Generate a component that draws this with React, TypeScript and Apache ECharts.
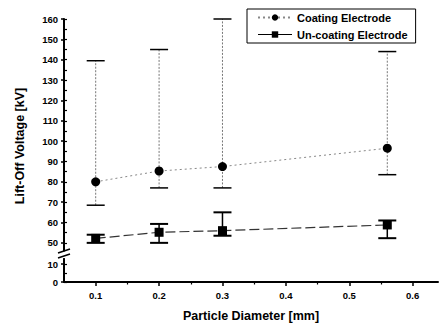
import React, { useEffect, useRef } from "react";
import * as echarts from "echarts";

const xValues = [0.1, 0.2, 0.3, 0.56];
const coatingMean = [80, 85.3, 87.5, 96.5];
const coatingLow = [68.5, 77, 77, 83.5];
const coatingHigh = [139.5, 145, 160, 144];
const uncoatMean = [52.2, 55.2, 56, 58.8];
const uncoatLow = [50, 50, 53.5, 52.3];
const uncoatHigh = [54, 59.3, 65, 61];

const xMajor = [0.1, 0.2, 0.3, 0.4, 0.5, 0.6];
const xMinor = [0.15, 0.25, 0.35, 0.45, 0.55];
const yMajorTop = [50, 60, 70, 80, 90, 100, 110, 120, 130, 140, 150, 160];
const yMinorTop = [55, 65, 75, 85, 95, 105, 115, 125, 135, 145, 155];
const yMajorBottom = [0, 10];
const yMinorBottom = [5];

const FONT = "'Liberation Sans', Arial, sans-serif";

function errRender(capColor: string, barDash: any, barColor: string, capW: number, barW: number) {
  return (params: any, api: any) => {
    const x = api.value(0);
    const lo = api.coord([x, api.value(1)]);
    const hi = api.coord([x, api.value(2)]);
    const half = 9;
    return {
      type: "group",
      children: [
        {
          type: "line",
          shape: { x1: lo[0], y1: lo[1], x2: hi[0], y2: hi[1] },
          style: { stroke: barColor, lineWidth: barW, lineDash: barDash },
        },
        {
          type: "line",
          shape: { x1: hi[0] - half, y1: hi[1], x2: hi[0] + half, y2: hi[1] },
          style: { stroke: capColor, lineWidth: capW },
        },
        {
          type: "line",
          shape: { x1: lo[0] - half, y1: lo[1], x2: lo[0] + half, y2: lo[1] },
          style: { stroke: capColor, lineWidth: capW },
        },
      ],
    };
  };
}

export default function App() {
  const ref = useRef<HTMLDivElement>(null);
  useEffect(() => {
    const chart = echarts.init(ref.current!, null, { renderer: "svg" });
    const labelStyle = { color: "#000", fontFamily: FONT, fontWeight: "bold" as const, fontSize: 9.5 };
    const gridLeft = 64;
    const gridWidth = 374;
    const xMax = 0.64;
    const topGrid = { left: gridLeft, top: 19, width: gridWidth, height: 232 };
    const botGrid = { left: gridLeft, top: 258.6, width: gridWidth, height: 23.4 };
    const option: any = {
      animation: false,
      backgroundColor: "#fff",
      grid: [topGrid, botGrid, { ...topGrid }, { ...botGrid }],
      xAxis: [
        { gridIndex: 0, type: "value", min: 0.05, max: xMax, show: false },
        {
          gridIndex: 1,
          type: "value",
          position: "bottom",
          min: 0.05,
          max: xMax,
          axisLine: { show: true, lineStyle: { color: "#000", width: 2 } },
          axisTick: { show: true, customValues: xMajor, length: 4, lineStyle: { color: "#000", width: 1.5 } },
          axisLabel: {
            show: true,
            customValues: xMajor,
            formatter: (v: number) => v.toFixed(1),
            margin: 8,
            ...labelStyle,
          },
          splitLine: { show: false },
          name: "Particle Diameter [mm]",
          nameLocation: "middle",
          nameGap: 27,
          nameTextStyle: { color: "#000", fontFamily: FONT, fontWeight: "bold", fontSize: 12.5 },
        },
        { gridIndex: 2, type: "value", min: 0.05, max: xMax, show: false },
        {
          gridIndex: 3,
          type: "value",
          position: "bottom",
          min: 0.05,
          max: xMax,
          axisLine: { show: false },
          axisTick: { show: true, customValues: xMinor, length: 2.5, lineStyle: { color: "#000", width: 1.2 } },
          axisLabel: { show: false, customValues: xMinor },
          splitLine: { show: false },
        },
      ],
      yAxis: [
        {
          gridIndex: 0,
          type: "value",
          position: "left",
          min: 46,
          max: 160,
          axisLine: { show: true, lineStyle: { color: "#000", width: 2 } },
          axisTick: { show: true, customValues: yMajorTop, length: 3, lineStyle: { color: "#000", width: 1.5 } },
          axisLabel: { show: true, customValues: yMajorTop, margin: 6, ...labelStyle },
          splitLine: { show: false },
        },
        {
          gridIndex: 1,
          type: "value",
          position: "left",
          min: 0,
          max: 13,
          axisLine: { show: true, lineStyle: { color: "#000", width: 2 } },
          axisTick: { show: true, customValues: yMajorBottom, length: 3, lineStyle: { color: "#000", width: 1.5 } },
          axisLabel: { show: true, customValues: yMajorBottom, margin: 6, ...labelStyle },
          splitLine: { show: false },
        },
        {
          gridIndex: 2,
          type: "value",
          position: "left",
          min: 46,
          max: 160,
          axisLine: { show: false },
          axisTick: { show: true, inside: true, customValues: [...yMajorTop, ...yMinorTop], length: 3, lineStyle: { color: "#000", width: 1.2 } },
          axisLabel: { show: false, customValues: yMajorTop },
          splitLine: { show: false },
        },
        {
          gridIndex: 3,
          type: "value",
          position: "left",
          min: 0,
          max: 13,
          axisLine: { show: false },
          axisTick: { show: true, inside: true, customValues: [...yMajorBottom, ...yMinorBottom], length: 3, lineStyle: { color: "#000", width: 1.2 } },
          axisLabel: { show: false, customValues: yMajorBottom },
          splitLine: { show: false },
        },
      ],
      legend: {
        orient: "vertical",
        left: 247,
        top: 9,
        padding: [3, 8, 3, 10],
        borderColor: "#000",
        borderWidth: 1,
        itemWidth: 34,
        itemHeight: 8,
        itemGap: 6,
        textStyle: { color: "#000", fontFamily: FONT, fontWeight: "bold", fontSize: 11 },
        data: [
          { name: "Coating Electrode" },
          { name: "Un-coating Electrode", lineStyle: { type: "solid", color: "#000", width: 1.2 } },
        ],
      },
      graphic: [
        {
          type: "text",
          x: 20,
          y: 146,
          rotation: Math.PI / 2,
          style: {
            text: "Lift-Off Voltage [kV]",
            fill: "#000",
            font: `bold 12.5px ${FONT}`,
            textAlign: "center",
            textVerticalAlign: "middle",
          },
        },
        { type: "rect", shape: { x: 61, y: 251.5, width: 6, height: 6.5 }, style: { fill: "#fff" }, z: 100 },
        { type: "line", shape: { x1: 58, y1: 253, x2: 70, y2: 249 }, style: { stroke: "#000", lineWidth: 1.5 }, z: 101 },
        { type: "line", shape: { x1: 58, y1: 258, x2: 70, y2: 254 }, style: { stroke: "#000", lineWidth: 1.5 }, z: 101 },
      ],
      series: [
        {
          name: "Coating Electrode error",
          type: "custom",
          xAxisIndex: 0,
          yAxisIndex: 0,
          renderItem: errRender("#000", [2, 1.5], "#777", 1.5, 1),
          encode: { x: 0, y: [1, 2] },
          data: xValues.map((x, i) => [x, coatingLow[i], coatingHigh[i]]),
          z: 2,
        },
        {
          name: "Un-coating Electrode error",
          type: "custom",
          xAxisIndex: 0,
          yAxisIndex: 0,
          renderItem: errRender("#000", null, "#000", 2, 1.5),
          encode: { x: 0, y: [1, 2] },
          data: xValues.map((x, i) => [x, uncoatLow[i], uncoatHigh[i]]),
          z: 2,
        },
        {
          name: "Coating Electrode",
          type: "line",
          xAxisIndex: 0,
          yAxisIndex: 0,
          data: xValues.map((x, i) => [x, coatingMean[i]]),
          symbol: "circle",
          symbolSize: 9,
          itemStyle: { color: "#000" },
          lineStyle: { color: "#888", width: 1, type: [2, 3] },
          z: 3,
        },
        {
          name: "Un-coating Electrode",
          type: "line",
          xAxisIndex: 0,
          yAxisIndex: 0,
          data: xValues.map((x, i) => [x, uncoatMean[i]]),
          symbol: "rect",
          symbolSize: 9,
          itemStyle: { color: "#000" },
          lineStyle: { color: "#333", width: 1.2, type: [10, 4] },
          z: 3,
        },
      ],
    };
    chart.setOption(option);
    return () => chart.dispose();
  }, []);
  return (
    <div
      ref={ref}
      style={{ position: "fixed", left: 0, top: 0, width: 439, height: 325, background: "#fff" }}
    />
  );
}
